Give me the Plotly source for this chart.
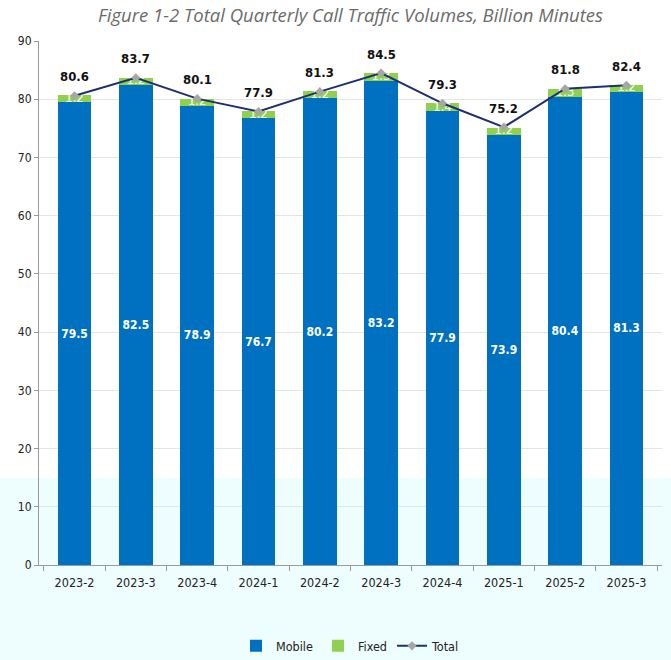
import plotly.graph_objects as go

quarters = ["2023-2", "2023-3", "2023-4", "2024-1", "2024-2",
            "2024-3", "2024-4", "2025-1", "2025-2", "2025-3"]
mobile = [79.5, 82.5, 78.9, 76.7, 80.2, 83.2, 77.9, 73.9, 80.4, 81.3]
fixed = [1.2, 1.2, 1.2, 1.2, 1.2, 1.3, 1.4, 1.2, 1.3, 1.2]
total = [80.6, 83.7, 80.1, 77.9, 81.3, 84.5, 79.3, 75.2, 81.8, 82.4]
y_ticks = [0, 10, 20, 30, 40, 50, 60, 70, 80, 90]

NARROW = "DejaVu Sans Condensed, Liberation Sans Narrow, sans-serif"
BLUE = "#0070c0"
GREEN = "#8fd14f"
NAVY = "#1f3070"

fig = go.Figure()

fig.add_trace(go.Bar(
    x=quarters, y=mobile, name="Mobile", marker_color=BLUE,
    marker_line_width=0,
    text=[f"{v:.1f}" for v in mobile], textposition="inside",
    insidetextanchor="middle", textangle=0,
    textfont=dict(family=NARROW, size=12, color="white", weight="bold"),
    hoverinfo="skip",
))
fig.add_trace(go.Bar(
    x=quarters, y=fixed, name="Fixed", marker_color=GREEN,
    marker_line_width=0, hoverinfo="skip",
))
# labels for the thin fixed-line segments, centred on each segment
fig.add_trace(go.Scatter(
    x=quarters, y=[m + f / 2 for m, f in zip(mobile, fixed)],
    mode="text", text=[f"{v:.1f}" for v in fixed],
    textfont=dict(family=NARROW, size=13, color="white"),
    showlegend=False, hoverinfo="skip",
))
fig.add_trace(go.Scatter(
    x=quarters, y=total, name="Total", mode="lines+markers",
    line=dict(color=NAVY, width=2),
    marker=dict(symbol="diamond", size=7, color="#a6a6a6"),
    hoverinfo="skip",
))

# total value labels sitting above each point of the line
total_labels = [
    dict(x=q, y=t, text=f"{t:.1f}", showarrow=False, yshift=19,
         font=dict(family=NARROW, size=13, color="#111111", weight="bold"))
    for q, t in zip(quarters, total)
]

fig.update_layout(
    width=671, height=660,
    barmode="stack", bargap=0.45,
    margin=dict(l=39, r=9, t=41, b=95, autoexpand=False),
    paper_bgcolor="white", plot_bgcolor="rgba(0,0,0,0)",
    title=dict(
        text="<i>Figure 1-2 Total Quarterly Call Traffic Volumes, Billion Minutes</i>",
        x=0.5, xref="paper", xanchor="center", y=0.977, yanchor="middle",
        font=dict(family="Open Sans, Lato, sans-serif", size=18.5, color="#6b6b6b"),
    ),
    xaxis=dict(
        type="category",
        showline=True, linecolor="#9a9a9a", linewidth=1,
        ticks="outside", tickson="boundaries", ticklen=5, tickcolor="#9a9a9a",
        tickfont=dict(family=NARROW, size=12.5, color="#222222"),
        ticklabelstandoff=6,
        showgrid=False,
    ),
    yaxis=dict(
        range=[0, 90], tickvals=y_ticks,
        showline=True, linecolor="#9a9a9a", linewidth=1,
        ticks="outside", ticklen=4, tickcolor="#9a9a9a",
        tickfont=dict(family=NARROW, size=12, color="#222222"),
        showgrid=True, gridcolor="#e4e4e4", gridwidth=1, zeroline=False,
    ),
    legend=dict(
        orientation="h", x=0.5, xanchor="center", y=-0.155, yanchor="middle",
        font=dict(family=NARROW, size=12.5, color="#222222"),
        traceorder="normal", bgcolor="rgba(0,0,0,0)",
        itemwidth=30, tracegroupgap=0,
    ),
    showlegend=True,
    annotations=total_labels,
    shapes=[dict(
        type="rect", xref="paper", yref="paper",
        x0=-0.2, x1=1.2, y0=-0.4, y1=0.166,
        fillcolor="#eefdfd", line_width=0, layer="below",
    )],
)

fig.write_html("out.html")
